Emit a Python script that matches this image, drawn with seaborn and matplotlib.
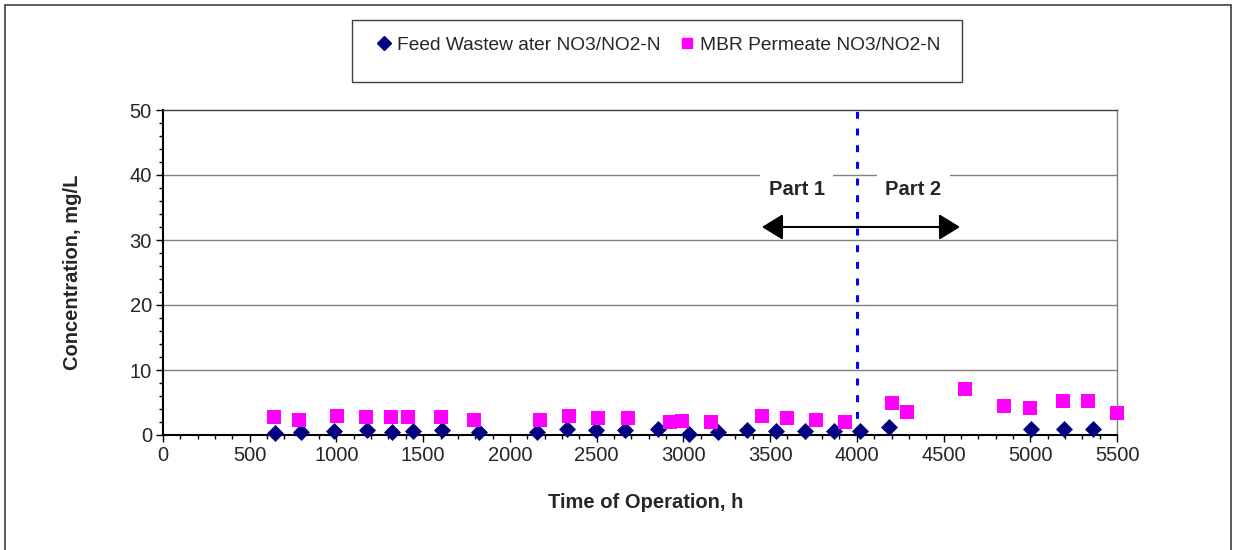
import numpy as np
import pandas as pd
import matplotlib
matplotlib.use("Agg")
import matplotlib.pyplot as plt
import seaborn as sns
from matplotlib.lines import Line2D
from matplotlib.patches import Rectangle, FancyArrowPatch
from matplotlib.ticker import MultipleLocator

# Data
feed_label = "Feed Wastew ater NO3/NO2-N"
perm_label = "MBR Permeate NO3/NO2-N"

feed_time = [646, 794, 986, 1174, 1318, 1443, 1607, 1824, 2158, 2327, 2496, 2664,
             2852, 3034, 3202, 3365, 3534, 3701, 3870, 4018, 4187, 5002, 5195, 5360]
feed_conc = [0.25, 0.4, 0.6, 0.8, 0.45, 0.6, 0.8, 0.4, 0.4, 0.9, 0.8, 0.8,
             0.9, 0.1, 0.5, 0.8, 0.6, 0.6, 0.6, 0.6, 1.3, 0.9, 0.9, 0.9]

perm_time = [642, 786, 1001, 1169, 1314, 1414, 1603, 1795, 2173, 2342, 2510, 2679,
             2923, 2990, 3159, 3452, 3600, 3765, 3932, 4201, 4291, 4624, 4850, 4999,
             5187, 5331, 5498]
perm_conc = [2.7, 2.3, 2.9, 2.7, 2.7, 2.7, 2.7, 2.3, 2.3, 2.9, 2.6, 2.6,
             2.0, 2.2, 2.0, 2.9, 2.6, 2.3, 2.0, 5.0, 3.5, 7.1, 4.4, 4.1,
             5.3, 5.3, 3.4]

part_split = 4000
part_labels = ["Part 1", "Part 2"]

feed_df = pd.DataFrame({"time": feed_time, "conc": feed_conc})
perm_df = pd.DataFrame({"time": perm_time, "conc": perm_conc})

sns.set_style("white")
plt.rcParams["font.family"] = ["Liberation Sans", "DejaVu Sans"]
plt.rcParams["lines.scale_dashes"] = False

fig = plt.figure(figsize=(12.37, 5.5), dpi=100)
ax = fig.add_axes([163 / 1237, 1 - 435 / 550, 954 / 1237, 325 / 550])

navy = "#000080"
magenta = "#FF00FF"

sns.scatterplot(data=feed_df, x="time", y="conc", marker="D", s=75, color=navy,
                linewidth=0, ax=ax, zorder=4)
sns.scatterplot(data=perm_df, x="time", y="conc", marker="s", s=115, color=magenta,
                linewidth=0, ax=ax, zorder=5)
for coll in ax.collections:
    coll.set_clip_on(False)

ax.set_xlim(0, 5500)
ax.set_ylim(0, 50)
ax.xaxis.set_major_locator(MultipleLocator(500))
ax.xaxis.set_minor_locator(MultipleLocator(100))
ax.yaxis.set_major_locator(MultipleLocator(10))
ax.yaxis.set_minor_locator(MultipleLocator(2))
ax.tick_params(axis="both", which="major", direction="out", length=5, width=1,
               color="black", labelsize=14.5, pad=3)
ax.tick_params(axis="both", which="minor", direction="out", length=3, width=1,
               color="black")
ax.tick_params(axis="x", which="both", bottom=True)
ax.tick_params(axis="y", which="both", left=True)

# gridlines at 10..40, frame lines
for yv in [10, 20, 30, 40]:
    ax.axhline(yv, color="#808080", lw=1, zorder=1)
for side in ["left", "bottom"]:
    ax.spines[side].set_color("black")
    ax.spines[side].set_linewidth(1.5)
ax.spines["top"].set_color("#404040")
ax.spines["right"].set_color("#808080")
ax.spines["top"].set_linewidth(1)
ax.spines["right"].set_linewidth(1)

ax.set_xlabel("Time of Operation, h", fontsize=14.5, fontweight="bold")
ax.set_ylabel("Concentration, mg/L", fontsize=14.5, fontweight="bold")
ax.xaxis.set_label_coords(0.506, -0.18)
ax.yaxis.set_label_coords(-0.085, 0.5)

# part divider and annotation
ax.axvline(part_split, color="#0000FF", lw=2.2, dashes=(5, 7), zorder=3)
ax.text(3653, 37.8, part_labels[0], ha="center", va="center", fontsize=14.5,
        fontweight="bold", zorder=6,
        bbox=dict(facecolor="white", edgecolor="none", pad=6))
ax.text(4326, 37.8, part_labels[1], ha="center", va="center", fontsize=14.5,
        fontweight="bold", zorder=6,
        bbox=dict(facecolor="white", edgecolor="none", pad=6))
arrow = FancyArrowPatch((3453, 32), (4595, 32),
                        arrowstyle="<|-|>,head_length=0.65,head_width=0.4",
                        mutation_scale=20, lw=1.5, color="black",
                        shrinkA=0, shrinkB=0, zorder=6)
ax.add_patch(arrow)

# legend box
fig.patches.append(Rectangle((352 / 1237, 1 - 82 / 550), 610 / 1237, 62 / 550,
                             transform=fig.transFigure, facecolor="white",
                             edgecolor="#404040", lw=1, zorder=0))
handles = [Line2D([], [], marker="D", color=navy, linestyle="none", markersize=7),
           Line2D([], [], marker="s", color=magenta, linestyle="none", markersize=7.5)]
fig.legend(handles, [feed_label, perm_label], loc="center left",
           bbox_to_anchor=(360 / 1237, 1 - 45 / 550), ncol=2, frameon=False,
           fontsize=13.8, handlelength=0.7, handletextpad=0.35, columnspacing=1.0)

# outer chart border
fig.patches.append(Rectangle((5 / 1237, -0.02), 1226 / 1237, 1 - 5 / 550 + 0.02,
                             transform=fig.transFigure, facecolor="none",
                             edgecolor="#404040", lw=1.2, zorder=0))

fig.savefig("out.png", dpi=100)
